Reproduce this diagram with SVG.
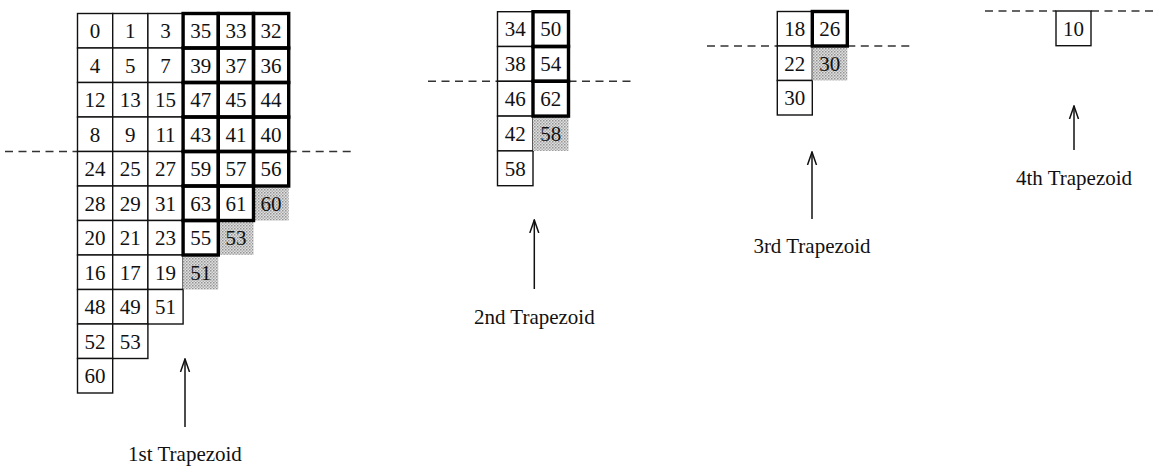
<svg xmlns="http://www.w3.org/2000/svg" width="1155" height="466" viewBox="0 0 1155 466">
  <defs>
    <pattern id="dots" width="3" height="3" patternUnits="userSpaceOnUse">
      <rect width="3" height="3" fill="#e0e0e0"/>
      <rect x="0" y="0" width="1.5" height="1.5" fill="#939393"/>
      <rect x="1.5" y="1.5" width="1.5" height="1.5" fill="#b0b0b0"/>
    </pattern>
    <!-- open arrowhead, tip on the +x end so orient="auto" points it along the line -->
    <marker id="head" viewBox="0 0 14 12" refX="13" refY="6" markerWidth="14" markerHeight="12" markerUnits="userSpaceOnUse" orient="auto">
      <path d="M0,1.5 L13,6 L0,10.5" fill="none" stroke="#111" stroke-width="1.5"/>
    </marker>
    <style>
      .c { fill: #fff; stroke: #111; stroke-width: 1.4; }
      .t { fill: none; stroke: #000; stroke-width: 3.4; }
      .s { fill: url(#dots); stroke: none; }
      .n { font-family: "Liberation Serif", "Times New Roman", serif; font-size: 21px; fill: #111; text-anchor: middle; }
      .lbl { font-family: "Liberation Serif", "Times New Roman", serif; font-size: 21px; fill: #111; text-anchor: middle; }
      .dash { stroke: #333; stroke-width: 1.4; stroke-dasharray: 8 5.5; fill: none; }
      .arr { stroke: #111; stroke-width: 1.5; fill: none; }
    </style>
  </defs>
  <rect width="1155" height="466" fill="#fff"/>

  <!-- dashed split lines -->
  <g id="splits">
    <line class="dash" x1="5" y1="151.5" x2="77.5" y2="151.5"/>
    <line class="dash" x1="288.7" y1="151.5" x2="355" y2="151.5"/>
    <line class="dash" x1="428" y1="81.3" x2="497.5" y2="81.3"/>
    <line class="dash" x1="568.5" y1="81.3" x2="632" y2="81.3"/>
    <line class="dash" x1="707" y1="46" x2="777.3" y2="46"/>
    <line class="dash" x1="847.3" y1="46" x2="910" y2="46"/>
    <line class="dash" x1="985" y1="11" x2="1056" y2="11"/>
    <line class="dash" x1="1091" y1="11" x2="1155" y2="11"/>
  </g>

  <!-- trapezoid 1 -->
  <g id="trapezoid1">
    <g id="t1-plain">
      <rect class="c" x="77.5" y="13.5" width="35.2" height="34.5"/><rect class="c" x="112.7" y="13.5" width="35.2" height="34.5"/><rect class="c" x="147.9" y="13.5" width="35.2" height="34.5"/>
      <rect class="c" x="77.5" y="48" width="35.2" height="34.5"/><rect class="c" x="112.7" y="48" width="35.2" height="34.5"/><rect class="c" x="147.9" y="48" width="35.2" height="34.5"/>
      <rect class="c" x="77.5" y="82.5" width="35.2" height="34.5"/><rect class="c" x="112.7" y="82.5" width="35.2" height="34.5"/><rect class="c" x="147.9" y="82.5" width="35.2" height="34.5"/>
      <rect class="c" x="77.5" y="117" width="35.2" height="34.5"/><rect class="c" x="112.7" y="117" width="35.2" height="34.5"/><rect class="c" x="147.9" y="117" width="35.2" height="34.5"/>
      <rect class="c" x="77.5" y="151.5" width="35.2" height="34.5"/><rect class="c" x="112.7" y="151.5" width="35.2" height="34.5"/><rect class="c" x="147.9" y="151.5" width="35.2" height="34.5"/>
      <rect class="c" x="77.5" y="186" width="35.2" height="34.5"/><rect class="c" x="112.7" y="186" width="35.2" height="34.5"/><rect class="c" x="147.9" y="186" width="35.2" height="34.5"/>
      <rect class="c" x="77.5" y="220.5" width="35.2" height="34.5"/><rect class="c" x="112.7" y="220.5" width="35.2" height="34.5"/><rect class="c" x="147.9" y="220.5" width="35.2" height="34.5"/>
      <rect class="c" x="77.5" y="255" width="35.2" height="34.5"/><rect class="c" x="112.7" y="255" width="35.2" height="34.5"/><rect class="c" x="147.9" y="255" width="35.2" height="34.5"/>
      <rect class="c" x="77.5" y="289.5" width="35.2" height="34.5"/><rect class="c" x="112.7" y="289.5" width="35.2" height="34.5"/><rect class="c" x="147.9" y="289.5" width="35.2" height="34.5"/>
      <rect class="c" x="77.5" y="324" width="35.2" height="34.5"/><rect class="c" x="112.7" y="324" width="35.2" height="34.5"/>
      <rect class="c" x="77.5" y="358.5" width="35.2" height="34.5"/>
    </g>
    <g id="t1-shaded">
      <rect class="s" x="253.5" y="186" width="35.2" height="34.5"/>
      <rect class="s" x="218.3" y="220.5" width="35.2" height="34.5"/>
      <rect class="s" x="183.1" y="255" width="35.2" height="34.5"/>
    </g>
    <g id="t1-bold">
      <rect class="t" x="183.1" y="13.5" width="35.2" height="34.5"/><rect class="t" x="218.3" y="13.5" width="35.2" height="34.5"/><rect class="t" x="253.5" y="13.5" width="35.2" height="34.5"/>
      <rect class="t" x="183.1" y="48" width="35.2" height="34.5"/><rect class="t" x="218.3" y="48" width="35.2" height="34.5"/><rect class="t" x="253.5" y="48" width="35.2" height="34.5"/>
      <rect class="t" x="183.1" y="82.5" width="35.2" height="34.5"/><rect class="t" x="218.3" y="82.5" width="35.2" height="34.5"/><rect class="t" x="253.5" y="82.5" width="35.2" height="34.5"/>
      <rect class="t" x="183.1" y="117" width="35.2" height="34.5"/><rect class="t" x="218.3" y="117" width="35.2" height="34.5"/><rect class="t" x="253.5" y="117" width="35.2" height="34.5"/>
      <rect class="t" x="183.1" y="151.5" width="35.2" height="34.5"/><rect class="t" x="218.3" y="151.5" width="35.2" height="34.5"/><rect class="t" x="253.5" y="151.5" width="35.2" height="34.5"/>
      <rect class="t" x="183.1" y="186" width="35.2" height="34.5"/><rect class="t" x="218.3" y="186" width="35.2" height="34.5"/>
      <rect class="t" x="183.1" y="220.5" width="35.2" height="34.5"/>
    </g>
    <g id="t1-numbers" class="n">
      <text x="95.1" y="38">0</text><text x="130.3" y="38">1</text><text x="165.5" y="38">3</text><text x="200.7" y="38">35</text><text x="235.9" y="38">33</text><text x="271.1" y="38">32</text>
      <text x="95.1" y="72.5">4</text><text x="130.3" y="72.5">5</text><text x="165.5" y="72.5">7</text><text x="200.7" y="72.5">39</text><text x="235.9" y="72.5">37</text><text x="271.1" y="72.5">36</text>
      <text x="95.1" y="107">12</text><text x="130.3" y="107">13</text><text x="165.5" y="107">15</text><text x="200.7" y="107">47</text><text x="235.9" y="107">45</text><text x="271.1" y="107">44</text>
      <text x="95.1" y="141.5">8</text><text x="130.3" y="141.5">9</text><text x="165.5" y="141.5">11</text><text x="200.7" y="141.5">43</text><text x="235.9" y="141.5">41</text><text x="271.1" y="141.5">40</text>
      <text x="95.1" y="176">24</text><text x="130.3" y="176">25</text><text x="165.5" y="176">27</text><text x="200.7" y="176">59</text><text x="235.9" y="176">57</text><text x="271.1" y="176">56</text>
      <text x="95.1" y="210.5">28</text><text x="130.3" y="210.5">29</text><text x="165.5" y="210.5">31</text><text x="200.7" y="210.5">63</text><text x="235.9" y="210.5">61</text><text x="271.1" y="210.5">60</text>
      <text x="95.1" y="245">20</text><text x="130.3" y="245">21</text><text x="165.5" y="245">23</text><text x="200.7" y="245">55</text><text x="235.9" y="245">53</text>
      <text x="95.1" y="279.5">16</text><text x="130.3" y="279.5">17</text><text x="165.5" y="279.5">19</text><text x="200.7" y="279.5">51</text>
      <text x="95.1" y="314">48</text><text x="130.3" y="314">49</text><text x="165.5" y="314">51</text>
      <text x="95.1" y="348.5">52</text><text x="130.3" y="348.5">53</text>
      <text x="95.1" y="383">60</text>
    </g>
  </g>

  <!-- trapezoid 2 -->
  <g id="trapezoid2">
    <rect class="c" x="497.5" y="11.7" width="35.5" height="34.8"/>
    <rect class="c" x="497.5" y="46.5" width="35.5" height="34.8"/>
    <rect class="c" x="497.5" y="81.3" width="35.5" height="34.8"/>
    <rect class="c" x="497.5" y="116.1" width="35.5" height="34.8"/>
    <rect class="c" x="497.5" y="150.9" width="35.5" height="34.8"/>
    <rect class="s" x="533" y="116.1" width="35.5" height="34.8"/>
    <rect class="t" x="533" y="11.7" width="35.5" height="34.8"/>
    <rect class="t" x="533" y="46.5" width="35.5" height="34.8"/>
    <rect class="t" x="533" y="81.3" width="35.5" height="34.8"/>
    <g class="n">
      <text x="515.25" y="36.3">34</text><text x="550.75" y="36.3">50</text>
      <text x="515.25" y="71.1">38</text><text x="550.75" y="71.1">54</text>
      <text x="515.25" y="105.9">46</text><text x="550.75" y="105.9">62</text>
      <text x="515.25" y="140.7">42</text><text x="550.75" y="140.7">58</text>
      <text x="515.25" y="175.5">58</text>
    </g>
  </g>

  <!-- trapezoid 3 -->
  <g id="trapezoid3">
    <rect class="c" x="777.3" y="11.5" width="35" height="34.5"/>
    <rect class="c" x="777.3" y="46" width="35" height="34.5"/>
    <rect class="c" x="777.3" y="80.5" width="35" height="34.5"/>
    <rect class="s" x="812.3" y="46" width="35" height="34.5"/>
    <rect class="t" x="812.3" y="11.5" width="35" height="34.5"/>
    <g class="n">
      <text x="794.8" y="36">18</text><text x="829.8" y="36">26</text>
      <text x="794.8" y="70.5">22</text><text x="829.8" y="70.5">30</text>
      <text x="794.8" y="105">30</text>
    </g>
  </g>

  <!-- trapezoid 4 -->
  <g id="trapezoid4">
    <rect class="c" x="1056" y="11" width="35" height="34.7"/>
    <text class="n" x="1073.5" y="35.5">10</text>
  </g>

  <!-- arrows pointing at each trapezoid -->
  <g id="connectors">
    <line class="arr" x1="185" y1="427" x2="185" y2="359" marker-end="url(#head)"/>
    <line class="arr" x1="534.3" y1="289" x2="534.3" y2="220" marker-end="url(#head)"/>
    <line class="arr" x1="812" y1="219" x2="812" y2="152" marker-end="url(#head)"/>
    <line class="arr" x1="1074" y1="150" x2="1074" y2="106" marker-end="url(#head)"/>
  </g>

  <!-- captions -->
  <g id="labels" class="lbl">
    <text x="185" y="461">1st Trapezoid</text>
    <text x="534.3" y="324">2nd Trapezoid</text>
    <text x="812" y="253">3rd Trapezoid</text>
    <text x="1074" y="185">4th Trapezoid</text>
  </g>
</svg>
